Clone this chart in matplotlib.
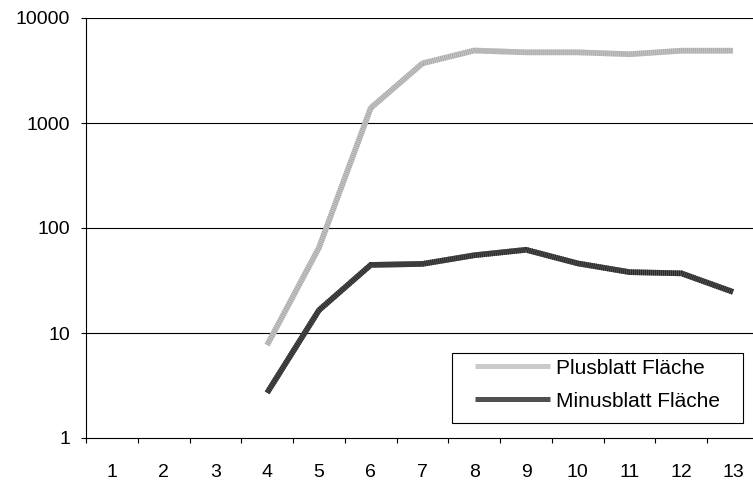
import numpy as np
import matplotlib
matplotlib.use('Agg')
import matplotlib.pyplot as plt
from matplotlib.patches import Rectangle

# data
categories = list(range(1, 14))
plus_area = [np.nan, np.nan, np.nan, 7.7, 65, 1390, 3700, 4900, 4710, 4710, 4520, 4880, 4880]
minus_area = [np.nan, np.nan, np.nan, 2.7, 16.5, 44.5, 45.5, 55, 62, 46, 38, 37, 24.6]
y_ticks = [1, 10, 100, 1000, 10000]

plt.rcParams['font.family'] = ['Liberation Sans', 'DejaVu Sans']
plt.rcParams['font.size'] = 14
plt.rcParams['lines.scale_dashes'] = False

fig = plt.figure(figsize=(7.53, 4.82), dpi=100)
fig.patch.set_facecolor('white')
ax = fig.add_axes([86 / 753, 1 - 438 / 482, 673 / 753, 420 / 482])

x = np.array(categories)
# base line plus a fine dashed overlay to mimic the striped fill
ax.plot(x, plus_area, color='#cbcbcb', lw=4.1, solid_capstyle='butt',
        solid_joinstyle='miter', label='Plusblatt Fläche', zorder=3)
ax.plot(x, plus_area, color='#a6a6a6', lw=4.1, dashes=(0.72, 0.72),
        dash_capstyle='butt', zorder=3.1)
ax.plot(x, minus_area, color='#505050', lw=4.1, solid_capstyle='butt',
        solid_joinstyle='miter', label='Minusblatt Fläche', zorder=3)
ax.plot(x, minus_area, color='#2a2a2a', lw=4.1, dashes=(0.72, 0.72),
        dash_capstyle='butt', zorder=3.1)

ax.set_yscale('log')
ax.set_ylim(1, 10000)
ax.set_yticks(y_ticks)
ax.set_yticklabels([str(v) for v in y_ticks])
ax.yaxis.set_minor_locator(matplotlib.ticker.NullLocator())
ax.tick_params(axis='y', which='major', direction='out', length=3.6, width=0.8, pad=8)
for v in y_ticks[1:]:
    ax.axhline(v, color='black', lw=0.8, zorder=1)

ax.set_xlim(0.5, 13.5)
ax.set_xticks(np.arange(0.5, 14, 1))
ax.set_xticklabels([])
ax.set_xticks(x, minor=True)
ax.set_xticklabels([str(c) for c in categories], minor=True)
ax.tick_params(axis='x', which='major', direction='out', length=3.6, width=0.8)
ax.tick_params(axis='x', which='minor', length=0, pad=19)

for s in ['top', 'right']:
    ax.spines[s].set_visible(False)
for s in ['left', 'bottom']:
    ax.spines[s].set_linewidth(0.8)
    ax.spines[s].set_color('black')

# legend box
ax.add_patch(Rectangle((0.544, 0.036), 0.432, 0.166, transform=ax.transAxes,
                       facecolor='white', edgecolor='black', lw=0.8, zorder=4.5))
leg = ax.legend(loc='center left', bbox_to_anchor=(0.578, 0.127), frameon=False,
                borderpad=0, borderaxespad=0, handlelength=3.6, handletextpad=0.3,
                labelspacing=0.68, fontsize=15)
leg.set_zorder(5)
for h in leg.get_lines():
    h.set_linewidth(3.6)

fig.savefig('out.png', dpi=100)
